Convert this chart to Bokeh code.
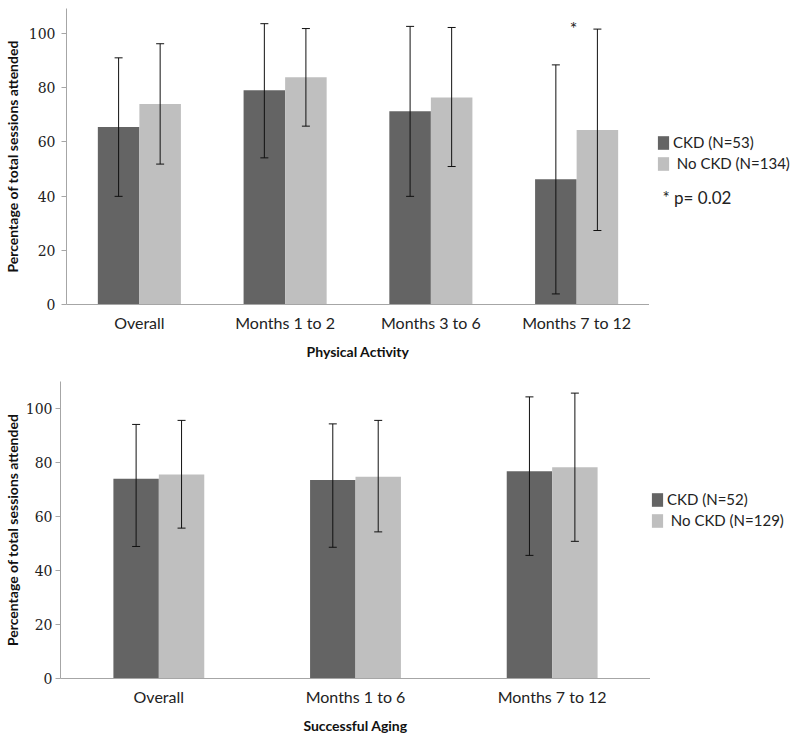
from bokeh.plotting import figure
from bokeh.models import (ColumnDataSource, FactorRange, Range1d, Legend, LegendItem,
                          Label, FixedTicker)
from bokeh.transform import dodge
from bokeh.layouts import column, row
from bokeh.embed import file_html
from bokeh.resources import INLINE
from bokeh.core.properties import value

# ---------------- data ----------------
pa_cats = ["Overall", "Months 1 to 2", "Months 3 to 6", "Months 7 to 12"]
pa_ckd = [65.5, 79.0, 71.3, 46.2]
pa_ckd_lo = [39.9, 54.1, 39.9, 3.9]
pa_ckd_hi = [91.0, 103.6, 102.6, 88.4]
pa_no = [74.0, 83.8, 76.4, 64.4]
pa_no_lo = [51.8, 65.8, 50.9, 27.3]
pa_no_hi = [96.2, 101.8, 102.2, 101.6]
pa_legend = ["CKD (N=53)", " No CKD (N=134)"]
pa_sig_cat = ["Months 7 to 12"]
pa_sig_y = [102.0]
pa_note = "* p= 0.02"

sa_cats = ["Overall", "Months 1 to 6", "Months 7 to 12"]
sa_ckd = [74.0, 73.5, 76.8]
sa_ckd_lo = [48.9, 48.6, 45.6]
sa_ckd_hi = [94.1, 94.3, 104.3]
sa_no = [75.6, 74.7, 78.2]
sa_no_lo = [55.7, 54.3, 50.8]
sa_no_hi = [95.6, 95.6, 105.7]
sa_legend = ["CKD (N=52)", " No CKD (N=129)"]

y_ticks = [0, 20, 40, 60, 80, 100]
y_title = "Percentage of total sessions attended"

DARK = "#646464"
LIGHT = "#bfbfbf"
AXIS = "#a6a6a6"
ERR = "#111111"
TXT = "#222222"
SANS = "Lato"


def make_panel(cats, ckd, ckd_lo, ckd_hi, no, no_lo, no_hi, xtitle,
               y_end, bw, off, min_left, min_top, frame_w, frame_h,
               lab_standoff, title_standoff):
    p = figure(x_range=FactorRange(*cats, range_padding=0),
               y_range=Range1d(0, y_end),
               frame_width=frame_w, frame_height=frame_h,
               output_backend="svg", toolbar_location=None, tools="")
    p.min_border_left = min_left
    p.min_border_right = 0
    p.min_border_top = min_top
    p.min_border_bottom = 0
    p.outline_line_color = None
    p.xgrid.grid_line_color = None
    p.ygrid.grid_line_color = None

    src = ColumnDataSource(dict(cat=cats, ckd=ckd, ckd_lo=ckd_lo, ckd_hi=ckd_hi,
                                no=no, no_lo=no_lo, no_hi=no_hi))
    p.vbar(x=dodge("cat", -off, range=p.x_range), top="ckd", width=bw,
           source=src, fill_color=DARK, line_color=None)
    p.vbar(x=dodge("cat", off, range=p.x_range), top="no", width=bw,
           source=src, fill_color=LIGHT, line_color=None)
    for d, lo, hi in ((-off, "ckd_lo", "ckd_hi"), (off, "no_lo", "no_hi")):
        xs = dodge("cat", d, range=p.x_range)
        p.segment(x0=xs, y0=lo, x1=xs, y1=hi, source=src, line_color=ERR, line_width=1)
        p.scatter(x=xs, y=lo, source=src, marker="dash", size=8,
                  line_color=ERR, line_width=1)
        p.scatter(x=xs, y=hi, source=src, marker="dash", size=8,
                  line_color=ERR, line_width=1)

    # y axis
    p.yaxis.ticker = FixedTicker(ticks=y_ticks)
    p.yaxis.axis_line_color = AXIS
    p.yaxis.major_tick_line_color = AXIS
    p.yaxis.major_tick_out = 5
    p.yaxis.major_tick_in = 0
    p.yaxis.minor_tick_line_color = None
    p.yaxis.major_label_standoff = lab_standoff
    p.yaxis.major_label_text_font = "DejaVu Serif"
    p.yaxis.major_label_text_font_size = "14px"
    p.yaxis.major_label_text_color = TXT
    p.yaxis.axis_label = y_title
    p.yaxis.axis_label_text_font = SANS
    p.yaxis.axis_label_text_font_style = "bold"
    p.yaxis.axis_label_text_font_size = "14px"
    p.yaxis.axis_label_text_color = "#111111"
    p.yaxis.axis_label_standoff = title_standoff

    # x axis
    p.xaxis.axis_line_color = AXIS
    p.xaxis.major_tick_line_color = None
    p.xaxis.minor_tick_line_color = None
    p.xaxis.major_tick_out = 0
    p.xaxis.major_tick_in = 0
    p.xaxis.major_label_standoff = 8
    p.xaxis.major_label_text_font = SANS
    p.xaxis.major_label_text_font_size = "16px"
    p.xaxis.major_label_text_color = TXT
    p.xaxis.axis_label = xtitle
    p.xaxis.axis_label_text_font = SANS
    p.xaxis.axis_label_text_font_style = "bold"
    p.xaxis.axis_label_text_font_size = "14px"
    p.xaxis.axis_label_text_color = "#111111"
    p.xaxis.axis_label_standoff = 8
    return p


def make_legend(labels, loc, width, height):
    lf = figure(width=width, height=height, x_range=Range1d(0, 1), y_range=Range1d(0, 1),
                output_backend="svg", toolbar_location=None, tools="", title=None,
                x_axis_location=None, y_axis_location=None, min_border=0)
    lf.grid.visible = False
    lf.outline_line_color = None
    r1 = lf.vbar(x=[0.5], top=[0], bottom=[0], width=0.1, fill_color=DARK, line_color=None)
    r2 = lf.vbar(x=[0.5], top=[0], bottom=[0], width=0.1, fill_color=LIGHT, line_color=None)
    legend = Legend(items=[LegendItem(label=labels[0], renderers=[r1]),
                           LegendItem(label=labels[1], renderers=[r2])],
                    location=loc, orientation="vertical",
                    glyph_width=14, glyph_height=17, label_height=17,
                    label_standoff=3, spacing=3, padding=0, margin=0,
                    border_line_alpha=0, background_fill_alpha=0,
                    label_text_font=SANS, label_text_font_size="15px",
                    label_text_color=TXT)
    lf.add_layout(legend)
    return lf


p1 = make_panel(pa_cats, pa_ckd, pa_ckd_lo, pa_ckd_hi, pa_no, pa_no_lo, pa_no_hi,
                "Physical Activity", y_end=109.2, bw=0.285, off=0.1425,
                min_left=62, min_top=8, frame_w=583, frame_h=296,
                lab_standoff=6, title_standoff=5)
p1.text(x=pa_sig_cat, y=pa_sig_y, text=["*"], text_font=value(SANS),
        text_font_size="18px", text_align="center", text_baseline="middle",
        text_color=TXT, x_offset=-3)

leg1 = make_legend(pa_legend, (7, 70), 142, 300)
leg1.add_layout(Label(x=13, y=45, x_units="screen", y_units="screen", text=pa_note,
                      text_font=SANS, text_font_size="17px", text_color=TXT,
                      text_baseline="middle"))

p2 = make_panel(sa_cats, sa_ckd, sa_ckd_lo, sa_ckd_hi, sa_no, sa_no_lo, sa_no_hi,
                "Successful Aging", y_end=110, bw=0.231, off=0.1155,
                min_left=55, min_top=19, frame_w=590, frame_h=297,
                lab_standoff=3, title_standoff=2)
leg2 = make_legend(sa_legend, (0, 75), 142, 300)

layout = column(row(p1, leg1, spacing=0), row(p2, leg2, spacing=0), spacing=0)
open("out.html", "w").write(file_html(layout, INLINE))
